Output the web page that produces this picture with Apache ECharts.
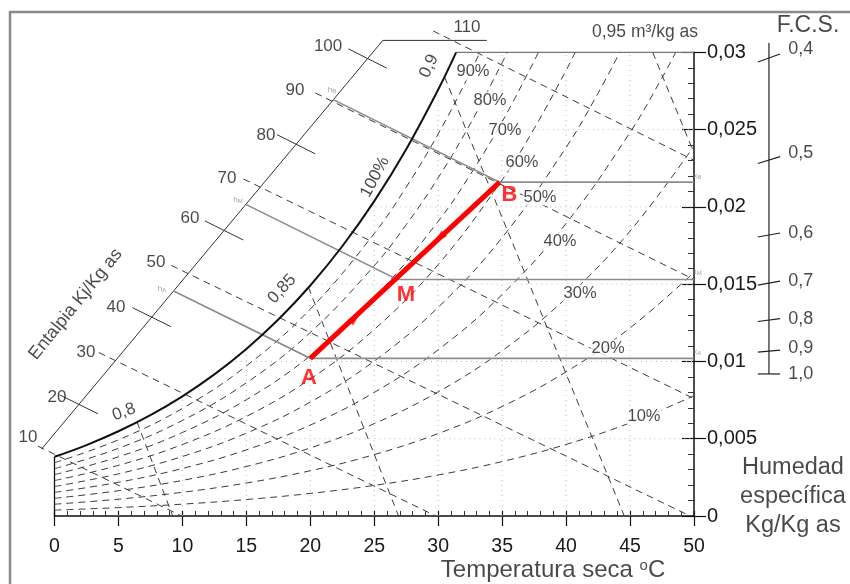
<!DOCTYPE html>
<html><head><meta charset="utf-8">
<script src="https://cdn.jsdelivr.net/npm/echarts@6/dist/echarts.min.js"></script>
<style>html,body{margin:0;padding:0;background:#fff}#c{width:850px;height:584px}</style>
</head><body><div id="c"></div>
<script>
// ---- data (t in °C, w in kg/kg) ----
const yTickLabels = ['0','0,005','0,01','0,015','0,02','0,025','0,03'];
const satCurve = [[0,0.003829],[2.5,0.004590],[5,0.005482],[7.5,0.006526],[10,0.007745],[12.5,0.009161],[15,0.010808],[17.5,0.012712],[20,0.014913],[22.5,0.017451],[25,0.020374],[27.5,0.023734],[30,0.027591],[31.4,0.03]];
const rh10 = [[0,0.000381],[5,0.000544],[10,0.000766],[15,0.001065],[20,0.001461],[25,0.001980],[30,0.002654],[35,0.003523],[40,0.004629],[45,0.006027],[50,0.007782]];
const rh20 = [[0,0.000762],[5,0.001089],[10,0.001534],[15,0.002133],[20,0.002927],[25,0.003973],[30,0.005332],[35,0.007085],[40,0.009327],[45,0.012170],[50,0.015758]];
const rh30 = [[0,0.001144],[5,0.001635],[10,0.002304],[15,0.003203],[20,0.004401],[25,0.005977],[30,0.008032],[35,0.010688],[40,0.014094],[45,0.018432],[50,0.023935]];
const rh40 = [[0,0.001526],[5,0.002181],[10,0.003075],[15,0.004279],[20,0.005882],[25,0.007995],[30,0.010754],[35,0.014331],[40,0.018933],[45,0.024819],[47.5,0.028347],[48.57,0.03]];
const rh50 = [[0,0.001908],[5,0.002729],[10,0.003849],[15,0.005358],[20,0.007370],[25,0.010025],[30,0.013501],[35,0.018016],[40,0.023845],[42.5,0.027357],[44.2,0.03]];
const rh60 = [[0,0.002292],[5,0.003278],[10,0.004624],[15,0.006440],[20,0.008864],[25,0.012068],[30,0.016269],[35,0.021743],[37.5,0.025060],[40,0.028831],[40.71,0.03]];
const rh70 = [[0,0.002676],[5,0.003828],[10,0.005402],[15,0.007526],[20,0.010366],[25,0.014125],[30,0.019064],[32.5,0.022076],[35,0.025514],[37.5,0.029432],[37.83,0.03]];
const rh80 = [[0,0.003059],[5,0.004379],[10,0.006181],[15,0.008616],[20,0.011874],[25,0.016194],[27.5,0.018846],[30,0.021881],[32.5,0.025358],[35,0.029327],[35.39,0.03]];
const rh90 = [[0,0.003444],[5,0.004930],[10,0.006962],[15,0.009709],[20,0.013391],[25,0.018278],[27.5,0.021280],[30,0.024723],[32.5,0.028671],[33.26,0.03]];
const rhLabels = ['10%','20%','30%','40%','50%','60%','70%','80%','90%'];
const rhLabelPos = [[46.09,0.00647],[43.28,0.01087],[41.09,0.01443],[39.52,0.01779],[37.96,0.02064],[36.55,0.02290],[35.22,0.02497],[34.05,0.02691],[32.72,0.02873]];
// enthalpy scale and lines
const enthScale = [[-1.02,0.00432],[25.67,0.03077],[33.8,0.03077]];
const enthOddLines = [
  [[-1.3,0.00452],[9.94,0]],
  [[3.46,0.010577],[29.82,0]],
  [[9.13,0.016211],[49.70,0]],
  [[14.78,0.021803],[50,0.007594]],
  [[20.39,0.027370],[50,0.015305]],
  [[29.6,0.031384],[50,0.023015]]
];
const enthEvenTicks = [
  [[0.4,0.007835],[3.4,0.006613]],
  [[6.1,0.013478],[9.1,0.012252]],
  [[11.76,0.019093],[14.76,0.017857]],
  [[17.39,0.024675],[20.39,0.023431]],
  [[22.98,0.030224],[25.98,0.028973]]
];
const enthLabels = ['10','20','30','40','50','60','70','80','90','100','110'];
const enthLabelPos = [[-2.07,0.00511],[0.2,0.0077],[2.46,0.01061],[4.81,0.01352],[7.94,0.01643],[10.59,0.01928],[13.49,0.02187],[16.54,0.02465],[18.8,0.02756],[21.39,0.03041],[32.25,0.03164]];
// specific volume lines
const volLines = [
  [[6.45,0.00609],[9.24,0]],
  [[19.85,0.01480],[26.9,0]],
  [[30.5,0.02840],[44.55,0]],
  [[46.77,0.03],[50,0.02348]]
];
// dotted grid
const gridV = [[5,0.0055],[10,0.00775],[15,0.0108],[20,0.01491],[25,0.02037],[30,0.02759],[35,0.03],[40,0.03],[45,0.03]];
const gridH = [[0.005,3.9],[0.01,13.8],[0.015,20.1],[0.02,24.7],[0.025,28.4]];
// process A - M - B
const ptA = [20.0,0.0102], ptM = [26.8,0.0153], ptB = [34.8,0.0216];
const hStartA = [9.31,0.01456], hStartM = [14.96,0.02016], hStartB = [21.80,0.02694];
const arrowPos = [[23.5,0.0128,-47],[30.1,0.0180,133]];
// F.C.S. scale
const fcsX = 55.86, fcsTop = 0.0306, fcsBottom = 0.00919;
const fcsLabels = ['0,4','0,5','0,6','0,7','0,8','0,9','1,0'];
const fcsTickW = [0.02963,0.02303,0.01818,0.01507,0.01268,0.01067,0.00919];
const fcsTickSlant = [0.00052,0.00045,0.00026,0.00026,0.00019,0.00013,0];
const fcsLabelW = [0.03021,0.02348,0.01831,0.0152,0.01275,0.01087,0.00919];

// ---- build ----
const FONT = 'Liberation Sans, Arial, Helvetica, sans-serif';
const series = [];
// smooth curves (inside the axis range)
function curve(data, style, extra) {
  series.push(Object.assign({type:'line', data, symbol:'none', showSymbol:false, clip:false, silent:true,
    animation:false, lineStyle:style, z:2, xAxisIndex:0, yAxisIndex:0}, extra||{}));
}
// straight polylines (may extend outside the axis range)
function segs(list, style, z) {
  series.push({type:'lines', coordinateSystem:'cartesian2d', xAxisIndex:0, yAxisIndex:0, polyline:true,
    clip:false, silent:true, animation:false, z:z||2, lineStyle:Object.assign({opacity:1, curveness:0}, style),
    data: list.map(c => ({coords:c}))});
}
function labels(items, lab, z) {
  series.push({type:'scatter', clip:false, silent:true, animation:false, symbolSize:0.1, z:z||5,
    itemStyle:{color:'rgba(0,0,0,0)'}, xAxisIndex:0, yAxisIndex:0,
    label:Object.assign({show:true, position:'inside', color:'#1a1a1a', fontFamily:FONT, fontSize:17}, lab),
    data: items.map(d => ({value:[d[0],d[1]], label:Object.assign({formatter:d[2], rotate:d[3]||0}, d[4]||{})}))});
}
const dashed = {color:'#3c3c3c', width:1, type:[7,5]};
const dotted = {color:'#bcbcbc', width:1, type:[1,4]};
const solidGray = {color:'#8c8c8c', width:1.6};

segs(gridV.map(g => [[g[0],0],[g[0],g[1]]]), dotted, 1);
segs(gridH.map(g => [[g[1],g[0]],[50,g[0]]]), dotted, 1);
[rh10,rh20,rh30,rh40,rh50,rh60,rh70,rh80,rh90].forEach(d => curve(d, dashed, {smooth:0.4}));
segs(enthOddLines, dashed);
segs(volLines, dashed);
segs(enthEvenTicks, {color:'#333', width:1});
segs([enthScale], {color:'#333', width:1});
curve(satCurve, {color:'#111', width:2}, {smooth:0.4, z:3});
segs([[[satCurve[satCurve.length-1][0],0.03],[50,0.03]]], {color:'#777', width:1.3});
segs([[[0,0],[0,satCurve[0][1]]]], {color:'#111', width:1.3});
// process lines
segs([[hStartA, ptA, [50, ptA[1]]],[hStartM, ptM, [50, ptM[1]]],[hStartB, ptB, [50, ptB[1]]]], solidGray, 3);
segs([[ptA, ptB]], {color:'#ff0000', width:5}, 8);
series.push({type:'scatter', clip:false, silent:true, animation:false, z:9, symbol:'triangle', symbolSize:[8,13],
  itemStyle:{color:'#ff0000'}, data: arrowPos.map(a => ({value:[a[0],a[1]], symbolRotate:a[2]}))});
// FCS scale
segs([[[fcsX,fcsTop],[fcsX,fcsBottom]]], {color:'#222', width:1.2});
segs(fcsTickW.map((w,i) => [[fcsX-0.87, w - fcsTickSlant[i]/2],[fcsX+0.87, w + fcsTickSlant[i]/2]]), {color:'#222', width:1.2});
labels(fcsLabels.map((s,i) => [fcsX+1.5, fcsLabelW[i], s]), {position:'right', distance:0, fontSize:18});

// text labels
labels(rhLabels.map((s,i) => [rhLabelPos[i][0], rhLabelPos[i][1], s]), {fontSize:16.5, backgroundColor:'#fff', padding:[0,1]});
labels(enthLabels.map((s,i) => [enthLabelPos[i][0], enthLabelPos[i][1], s]), {fontSize:17});
labels([
  [25.06,0.02193,'100%',62],
  [29.28,0.02911,'0,9',65],
  [17.79,0.01469,'0,85',47],
  [5.43,0.00673,'0,8',20],
  [1.65,0.0137,'Entalpia Kj/Kg as',51,{fontSize:18}],
  [46.17,0.03131,'0,95 m³/kg as',0,{fontSize:17.5}],
  [38.98,-0.00349,'Temperatura seca {sp|o}C',0,{fontSize:24}],
  [57.74,0.00129,'Humedad\nespecífica\nKg/Kg as',0,{fontSize:23.5, lineHeight:29, align:'center'}],
  [58.91,0.0317,'F.C.S.',0,{fontSize:23}]
], {rich:{sp:{fontSize:15, verticalAlign:'top', lineHeight:20, fontFamily:FONT, color:'#1a1a1a'}}});
labels([
  [8.41,0.01469,'{hh|h}{ss|A}'],[14.35,0.02044,'{hh|h}{ss|M}'],[21.7,0.02756,'{hh|h}{ss|B}'],
  [50.25,0.01061,'{hh|x}{ss|A}'],[50.25,0.01579,'{hh|x}{ss|M}'],[50.25,0.022,'{hh|x}{ss|B}']
], {color:'#888', fontSize:7, rich:{hh:{fontSize:8, color:'#888'}, ss:{fontSize:6, color:'#888', verticalAlign:'bottom'}}});
labels([[19.9,0.00893,'A'],[27.48,0.0143,'M'],[35.58,0.02074,'B']], {color:'#ff0000', fontSize:22, fontWeight:'bold'}, 10);

const option = {
  animation:false,
  backgroundColor:'#fff',
  textStyle:{fontFamily:FONT},
  graphic:[{type:'rect', shape:{x:10,y:12,width:900,height:700}, style:{fill:'none', stroke:'#8a8a8a', lineWidth:2.5}, silent:true}],
  grid:{left:54.5, right:156, top:52.3, bottom:68, containLabel:false, outerBoundsMode:'none'},
  xAxis:[
    {type:'value', min:0, max:50, interval:5, position:'bottom',
     axisLine:{show:true, onZero:false, lineStyle:{color:'#111', width:1.5}},
     axisTick:{show:true, inside:false, length:10, lineStyle:{color:'#111', width:1.2}},
     axisLabel:{show:true, margin:21, fontSize:19.5, color:'#1a1a1a', fontFamily:FONT},
     splitLine:{show:false}},
    {type:'value', min:0, max:50, interval:5, position:'bottom',
     axisLine:{show:false, onZero:false}, axisLabel:{show:false}, splitLine:{show:false},
     axisTick:{show:true, inside:true, length:5, lineStyle:{color:'#111', width:1.2}},
     minorTick:{show:true, splitNumber:5, length:5, lineStyle:{color:'#333', width:1}}}
  ],
  yAxis:[
    {type:'value', min:0, max:0.03, interval:0.005, position:'right',
     axisLine:{show:true, onZero:false, lineStyle:{color:'#111', width:1.5}},
     axisTick:{show:true, inside:false, length:12, lineStyle:{color:'#111', width:1.2}},
     axisLabel:{show:true, margin:13, fontSize:20, color:'#1a1a1a', fontFamily:FONT,
       formatter: v => yTickLabels[Math.round(v/0.005)]},
     splitLine:{show:false}},
    {type:'value', min:0, max:0.03, interval:0.005, position:'right',
     axisLine:{show:false, onZero:false}, axisLabel:{show:false}, splitLine:{show:false},
     axisTick:{show:true, inside:true, length:12, lineStyle:{color:'#111', width:1.2}},
     minorTick:{show:true, splitNumber:5, length:6, lineStyle:{color:'#333', width:1}}}
  ],
  series
};
const chart = echarts.init(document.getElementById('c'), null, {renderer:'canvas'});
chart.setOption(option);
</script></body></html>
